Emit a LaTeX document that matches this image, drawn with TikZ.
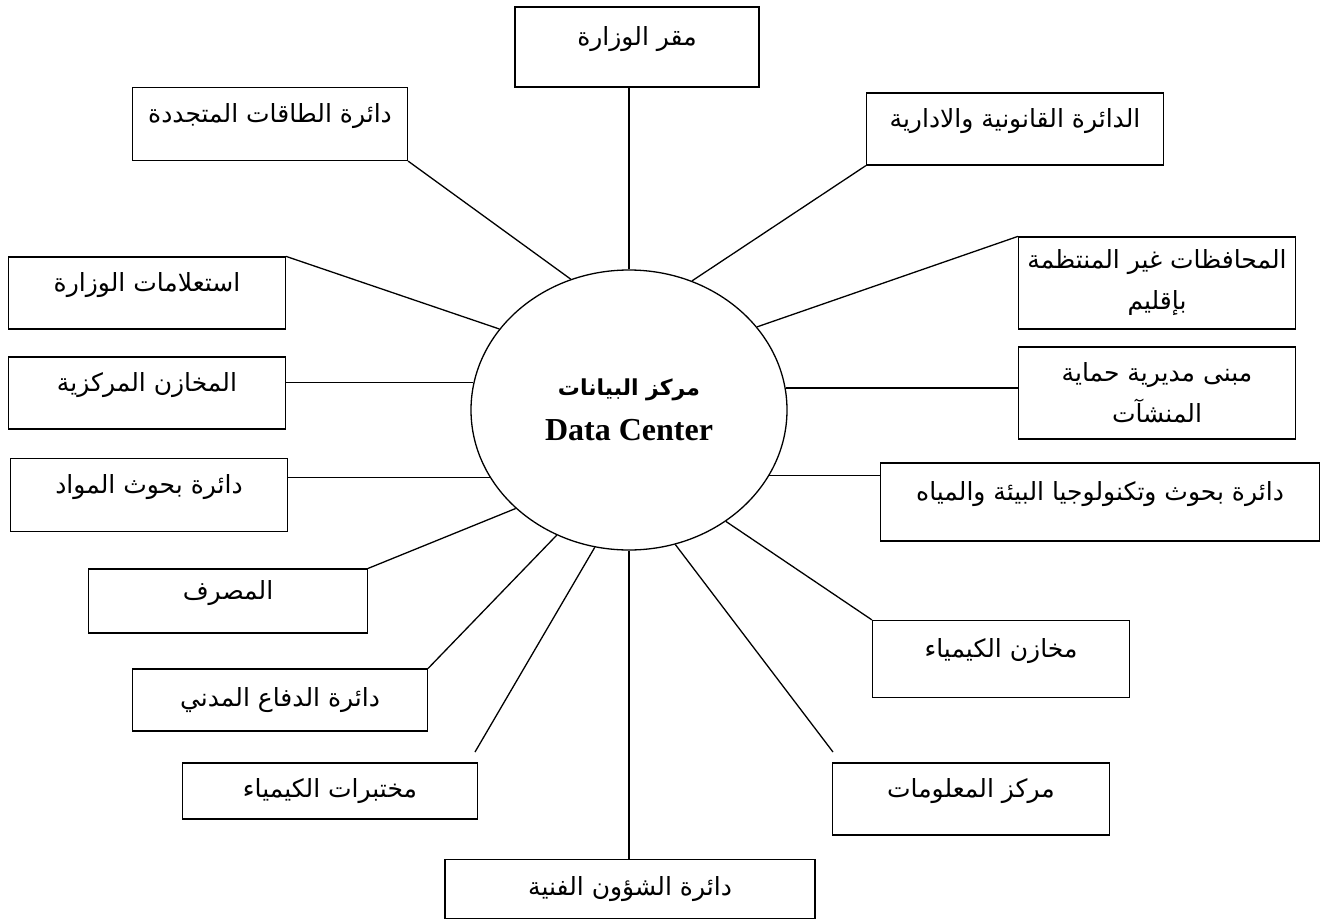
\documentclass[tikz,border=0pt]{standalone}
\usepackage{fontspec}
\newfontfamily\arabicfont[Script=Arabic]{DejaVu Sans}
\newfontfamily\timesfont{Liberation Serif}
\TeXXeTstate=1
\newcommand{\artext}[1]{\beginR #1\endR}
\usetikzlibrary{shapes.geometric}

\begin{document}
\begin{tikzpicture}[x=1pt,y=-1pt]
	\tikzstyle{dept}=[draw, line width=1.2pt, inner sep=0pt, align=center, font=\arabicfont\fontsize{25}{41}\selectfont]
	\tikzstyle{high}=[text height=17pt, text depth=20pt]
	\tikzstyle{link}=[line width=1.3pt]
	\useasboundingbox (0,0) rectangle (1322,921);
	\node[draw, ellipse, line width=1.3pt, minimum width=316pt, minimum height=280pt, inner sep=0pt, align=center] (dc) at (629,410)
		{{\arabicfont\bfseries\fontsize{22}{26}\selectfont\artext{مركز البيانات}}\\[17pt]
		 {\timesfont\bfseries\fontsize{32}{36}\selectfont Data Center}};
	\node[dept, high, minimum width=244pt, minimum height=80pt] (maqar) at (637,47) {\artext{مقر الوزارة}};
	\node[dept, high, minimum width=275pt, minimum height=73pt] (taqat) at (270,124) {\artext{دائرة الطاقات المتجددة}};
	\node[dept, high, minimum width=297pt, minimum height=72pt] (qanun) at (1015,129) {\artext{الدائرة القانونية والادارية}};
	\node[dept, minimum width=277pt, minimum height=92pt] (muhafazat) at (1157,283) {\artext{المحافظات غير المنتظمة}\\\artext{بإقليم}};
	\node[dept, minimum width=277pt, minimum height=92pt] (mabna) at (1157,393) {\artext{مبنى مديرية حماية}\\\artext{المنشآت}};
	\node[dept, high, minimum width=439pt, minimum height=78pt] (biaa) at (1100,502) {\artext{دائرة بحوث وتكنولوجيا البيئة والمياه}};
	\node[dept, high, minimum width=257pt, minimum height=77pt] (kimia) at (1001,659) {\artext{مخازن الكيمياء}};
	\node[dept, high, minimum width=277pt, minimum height=72pt] (malumat) at (971,799) {\artext{مركز المعلومات}};
	\node[dept, minimum width=370pt, minimum height=59pt] (shuun) at (630,889) {\artext{دائرة الشؤون الفنية}};
	\node[dept, minimum width=295pt, minimum height=56pt] (mukhtabarat) at (330,791) {\artext{مختبرات الكيمياء}};
	\node[dept, minimum width=295pt, minimum height=62pt] (difa) at (280,700) {\artext{دائرة الدفاع المدني}};
	\node[dept, high, minimum width=279pt, minimum height=64pt] (masraf) at (228,601) {\artext{المصرف}};
	\node[dept, high, minimum width=277pt, minimum height=73pt] (mawad) at (149,495) {\artext{دائرة بحوث المواد}};
	\node[dept, high, minimum width=277pt, minimum height=72pt] (markaziya) at (147,393) {\artext{المخازن المركزية}};
	\node[dept, high, minimum width=277pt, minimum height=72pt] (istilamat) at (147,293) {\artext{استعلامات الوزارة}};
	\coordinate (malumat end) at (833,752);
	\coordinate (mukhtabarat end) at (475,752);

	\draw[link] (taqat.south east) -- (dc.114);
	\draw[link] (dc.north) -- (dc.north |- maqar.south);
	\draw[link] (qanun.south west) -- (dc.64);
	\draw[link] (muhafazat.north west) -- (dc.33);
	\draw[link] (dc.8) -- (dc.8 -| mabna.west);
	\draw[link] (dc.-25.5) -- (dc.-25.5 -| biaa.west);
	\draw[link] (kimia.north west) -- (dc.-49);
	\draw[link] (dc.-71) -- (malumat end);
	\draw[link] (dc.south) -- (dc.south |- shuun.north);
	\draw[link] (dc.-104) -- (mukhtabarat end);
	\draw[link] (difa.north east) -- (dc.-120);
	\draw[link] (masraf.north east) -- (dc.-139);
	\draw[link] (dc.-154) -- (dc.-154 -| mawad.east);
	\draw[link] (dc.170) -- (dc.170 -| markaziya.east);
	\draw[link] (istilamat.north east) -- (dc.148);
\end{tikzpicture}
\end{document}
